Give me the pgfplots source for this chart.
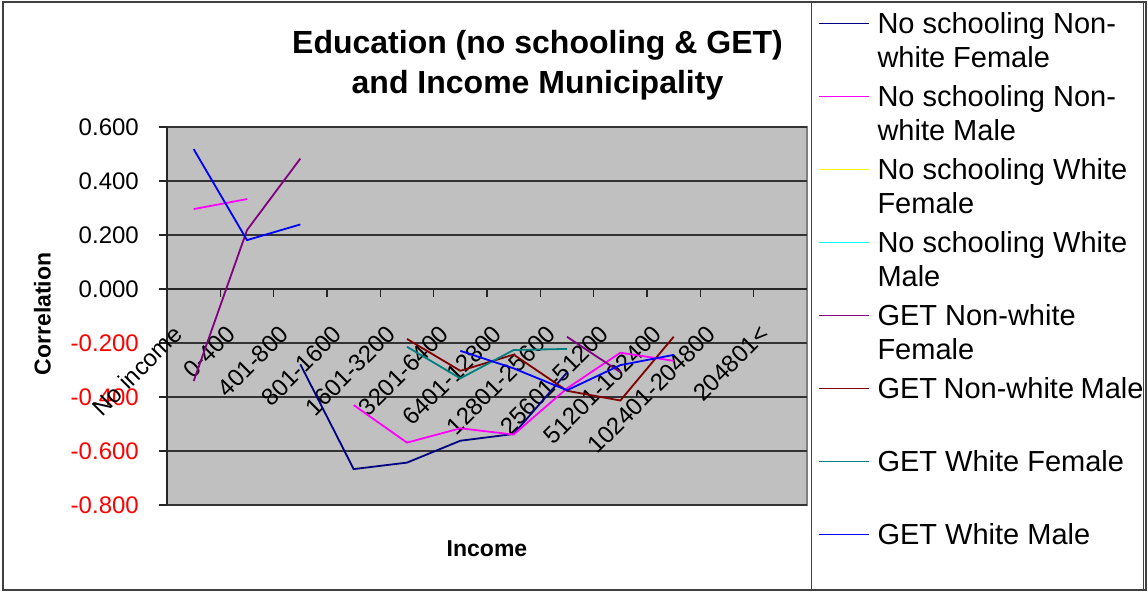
\documentclass[border=0pt]{standalone}
\usepackage{pgfplots}
\pgfplotsset{compat=1.18}
\usepackage{fontspec}
\setmainfont{Liberation Sans}
\definecolor{plotgray}{HTML}{C0C0C0}
\definecolor{cNavy}{HTML}{000080}
\definecolor{cMag}{HTML}{FF00FF}
\definecolor{cYel}{HTML}{FFFF00}
\definecolor{cCyan}{HTML}{00FFFF}
\definecolor{cPurp}{HTML}{800080}
\definecolor{cDred}{HTML}{800000}
\definecolor{cTeal}{HTML}{008080}
\definecolor{cBlue}{HTML}{0000FF}
\newcommand{\legtxt}[2]{\parbox[t][73pt][t]{266pt}{\strut #1\\\strut #2}}
\begin{document}
\begin{tikzpicture}[x=1pt,y=1pt]
\path[use as bounding box] (0,0) rectangle (1148,592);
\draw[line width=1.5pt, draw=black!75] (3,2) rectangle (1146,590);
\draw[line width=1.2pt, draw=black!75] (811.7,2) rectangle (1143.3,590);
\node[font=\bfseries\fontsize{32}{40}\selectfont, align=center] at (537.5,527) {Education (no schooling \& GET)\\and Income Municipality};
\node[rotate=90, font=\bfseries\fontsize{23}{28}\selectfont] at (42.5,278) {Correlation};
\node[font=\bfseries\fontsize{23}{28}\selectfont] at (487,43) {Income};
\begin{axis}[
  at={(167pt,87pt)}, anchor=south west, scale only axis,
  width=640pt, height=378pt,
  xmin=-0.5, xmax=11.5, ymin=-0.8, ymax=0.6,
  axis x line=middle, axis y line=left,
  axis line style={-, line width=1.3pt, black!85},
  axis background/.style={fill=plotgray, draw=gray, line width=1.8pt},
  ymajorgrids, grid style={line width=1.2pt, black!80},
  xtick={0.5,1.5,2.5,3.5,4.5,5.5,6.5,7.5,8.5,9.5,10.5},
  xticklabels={},
  xtick align=outside,
  extra x ticks={0,1,2,3,4,5,6,7,8,9,10,11},
  extra x tick labels={No income,0-400,401-800,801-1600,1601-3200,3201-6400,6401-12800,12801-25600,25601-51200,51201-102400,102401-204800,204801<},
  extra x tick style={grid=none, major tick length=0pt},
  ytick={-0.8,-0.6,-0.4,-0.2,0,0.2,0.4,0.6},
  yticklabels={\textcolor{red}{-0.800},\textcolor{red}{-0.600},\textcolor{red}{-0.400},\textcolor{red}{-0.200},0.000,0.200,0.400,0.600},
  tick style={line width=1.2pt, black!85},
  ytick align=outside, major tick length=8pt,
  tick label style={font=\fontsize{24}{28}\selectfont},
  xticklabel style={inner sep=0pt, xshift=-16pt, yshift=-41pt, rotate=45, anchor=east},
  yticklabel style={inner sep=0pt, anchor=east, xshift=-20pt},
  unbounded coords=jump,
  every axis plot/.append style={line width=1.8pt},
  legend style={at={(axis description cs:1.0172,1.3112)}, anchor=north west,
    draw=none, fill=none, inner sep=0pt, outer sep=0pt,
    row sep=0pt, column sep=8pt,
    font=\fontsize{29}{34}\selectfont,
    nodes={inner sep=0pt, text height=23.8pt, text depth=49.2pt},
    cells={anchor=base west, text height=23.8pt, text depth=49.2pt}},
  legend image code/.code={\draw[#1, line width=1.5pt] (0pt,9.5pt) -- (50pt,9.5pt);},
]
\addplot[cNavy, forget plot] coordinates {(2,-0.279) (3,-0.667) (4,-0.643) (5,-0.562) (6,-0.537) (7,-0.309)};
\addplot[cMag, forget plot] coordinates {(0,0.296) (1,0.333) (2,nan) (3,-0.430) (4,-0.569) (5,-0.516) (6,-0.539) (7,-0.368) (8,-0.236) (9,-0.266)};
\addplot[cPurp, forget plot] coordinates {(0,-0.341) (1,0.218) (2,0.483) (3,nan) (7,-0.177) (8,-0.308)};
\addplot[cDred, forget plot] coordinates {(4,-0.185) (5,-0.303) (6,-0.243) (7,-0.377) (8,-0.413) (9,-0.177)};
\addplot[cTeal, forget plot] coordinates {(4,-0.214) (5,-0.331) (6,-0.226) (7,-0.222)};
\addplot[cBlue, forget plot] coordinates {(0,0.518) (1,0.181) (2,0.239) (3,nan) (5,-0.229) (6,-0.294) (7,-0.375) (8,-0.282) (9,-0.244)};
\addlegendimage{cNavy}
\addlegendentry{\legtxt{No schooling Non-}{white Female}}
\addlegendimage{cMag}
\addlegendentry{\legtxt{No schooling Non-}{white Male}}
\addlegendimage{cYel}
\addlegendentry{\legtxt{No schooling White}{Female}}
\addlegendimage{cCyan}
\addlegendentry{\legtxt{No schooling White}{Male}}
\addlegendimage{cPurp}
\addlegendentry{\legtxt{GET Non-white}{Female}}
\addlegendimage{cDred}
\addlegendentry{\legtxt{GET Non-white Male}{}}
\addlegendimage{cTeal}
\addlegendentry{\legtxt{GET White Female}{}}
\addlegendimage{cBlue}
\addlegendentry{\legtxt{GET White Male}{}}
\end{axis}
\end{tikzpicture}
\end{document}
